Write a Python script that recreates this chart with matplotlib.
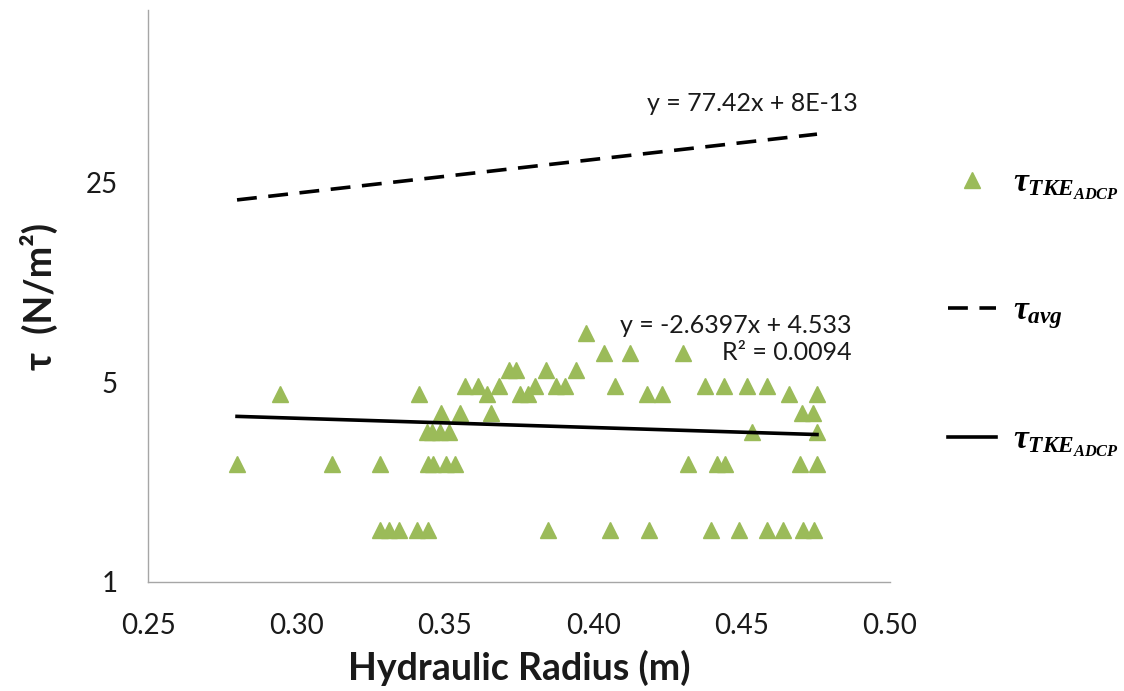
import matplotlib.pyplot as plt
from matplotlib.ticker import FixedLocator, FixedFormatter, NullLocator

plt.rcParams['font.family'] = ['Lato', 'DejaVu Sans']
plt.rcParams['mathtext.fontset'] = 'custom'
plt.rcParams['mathtext.it'] = 'Liberation Serif:italic:bold'
plt.rcParams['mathtext.rm'] = 'Liberation Serif:bold'

# hydraulic radius (m) and TKE-based bed shear stress from ADCP (N/m2)
hydraulic_radius = [
    0.3976,
    0.4036, 0.4124, 0.4303,
    0.3716, 0.3740, 0.3841, 0.3942,
    0.3568, 0.3612, 0.3683, 0.3804, 0.3875, 0.3905, 0.4074, 0.4377, 0.4441, 0.4518, 0.4586,
    0.2945, 0.3413, 0.3642, 0.3753, 0.3780, 0.4181, 0.4232, 0.4660, 0.4754,
    0.3487, 0.3551, 0.3656, 0.4704, 0.4741,
    0.3440, 0.3457, 0.3484, 0.3514, 0.4535, 0.4754,
    0.2800, 0.3120, 0.3282, 0.3443, 0.3460, 0.3504, 0.3534, 0.4319, 0.4417, 0.4444, 0.4697, 0.4754,
    0.3282, 0.3312, 0.3346, 0.3406, 0.3443, 0.3848, 0.4057, 0.4188, 0.4397, 0.4491, 0.4586, 0.4640, 0.4707, 0.4744,
]
tau_tke = (
    [7.4]
    + [6.3] * 3
    + [5.5] * 4
    + [4.85] * 11
    + [4.55] * 9
    + [3.9] * 5
    + [3.35] * 6
    + [2.58] * 12
    + [1.52] * 14
)

# linear trendlines as reported on the chart
tke_slope, tke_intercept, tke_r2 = -2.6397, 4.533, 0.0094
avg_slope, avg_intercept = 77.42, 8e-13

x_ticks = [0.25, 0.30, 0.35, 0.40, 0.45, 0.50]
y_ticks = [1, 5, 25]

green = '#9BBB59'
text_color = '#1a1a1a'

fig = plt.figure(figsize=(11.24, 6.91), dpi=100)
ax = fig.add_axes([148 / 1124, 109 / 691, 742 / 1124, 572 / 691])

pts, = ax.plot(hydraulic_radius, tau_tke, linestyle='none', marker='^',
               markersize=12, color=green, zorder=3)

x_fit = [min(hydraulic_radius), max(hydraulic_radius)]
avg_line, = ax.plot(x_fit, [avg_slope * x + avg_intercept for x in x_fit],
                    color='black', lw=2.6, linestyle=(0, (5.5, 3.2)), zorder=4)
tke_line, = ax.plot(x_fit, [tke_slope * x + tke_intercept for x in x_fit],
                    color='black', lw=2.6, zorder=4)

ax.set_yscale('log', base=5)
ax.set_xlim(0.25, 0.50)
ax.set_ylim(1, 100)
ax.xaxis.set_major_locator(FixedLocator(x_ticks))
ax.xaxis.set_major_formatter(FixedFormatter([f'{v:.2f}' for v in x_ticks]))
ax.yaxis.set_major_locator(FixedLocator(y_ticks))
ax.yaxis.set_major_formatter(FixedFormatter([str(v) for v in y_ticks]))
ax.yaxis.set_minor_locator(NullLocator())
ax.tick_params(axis='both', length=0, labelsize=20, colors=text_color)
ax.tick_params(axis='x', pad=22)
ax.tick_params(axis='y', pad=22)

for side in ('top', 'right'):
    ax.spines[side].set_visible(False)
for side in ('left', 'bottom'):
    ax.spines[side].set_color('#a6a6a6')
    ax.spines[side].set_linewidth(1.0)

ax.set_xlabel('Hydraulic Radius (m)', fontsize=27, fontweight='bold',
              color=text_color, labelpad=8)
ax.set_ylabel('τ  (N/m²)', fontsize=27, fontweight='bold',
              color=text_color, labelpad=20)

ax.text(0.815, 0.836, f'y = {avg_slope:g}x + 8E-13', transform=ax.transAxes,
        ha='center', va='center', fontsize=18, color=text_color)
ax.text(0.948, 0.425, f'y = {tke_slope:g}x + {tke_intercept:g}\nR² = {tke_r2:g}',
        transform=ax.transAxes, ha='right', va='center', multialignment='right',
        fontsize=18, color=text_color, linespacing=1.25)

fig.legend([pts, avg_line, tke_line],
           [r'$\tau_{TKE_{ADCP}}$', r'$\tau_{avg}$', r'$\tau_{TKE_{ADCP}}$'],
           loc='upper left', bbox_to_anchor=(918 / 1124, 1 - 138 / 691),
           frameon=False, fontsize=24, labelspacing=2.8, handlelength=1.45,
           handletextpad=0.5)

fig.savefig('out.png', dpi=100)
